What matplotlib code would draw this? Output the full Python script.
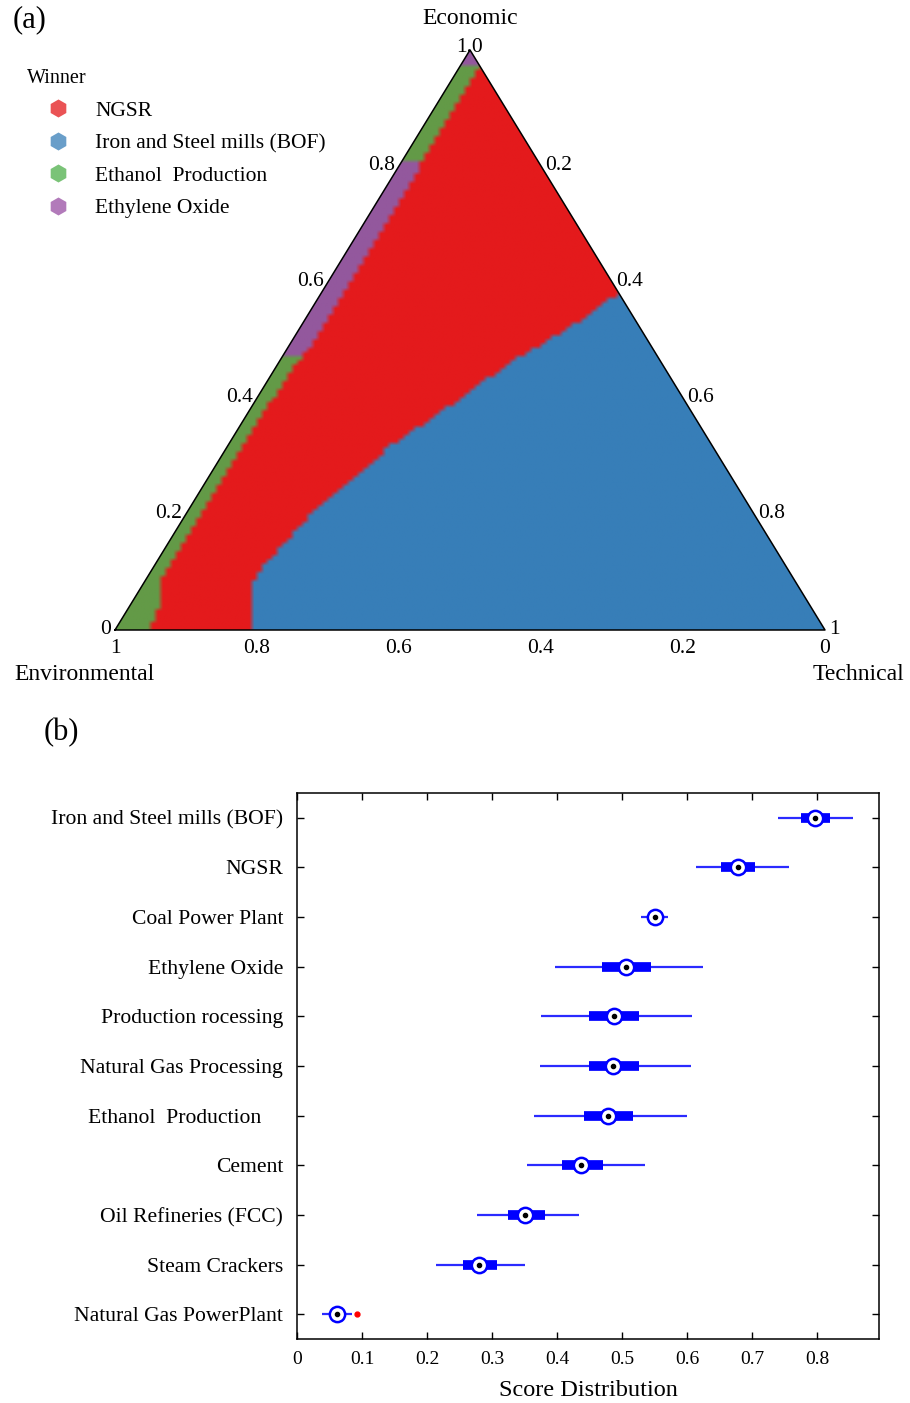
import numpy as np
import matplotlib
matplotlib.use('Agg')
import matplotlib.pyplot as plt
from matplotlib.colors import to_rgb
from matplotlib.lines import Line2D
from matplotlib.patches import Polygon

plt.rcParams['font.family'] = ['Liberation Serif', 'DejaVu Serif']

# ---- (a) winner map ----
winners = ['NGSR', 'Iron and Steel mills (BOF)', 'Ethanol  Production', 'Ethylene Oxide']
winner_colors = ['#e41a1c', '#377eb8', '#4daf4a', '#984ea3']
map_colors = ['#e41a1c', '#377eb8', '#639a47', '#93589d']  # strip looks a bit muddier on the map

# Iron and Steel wins where the Environmental weight is below this curve
blue_eco = [0.0, 0.07, 0.115, 0.195, 0.247, 0.316, 0.374, 0.46, 0.517, 0.58]
blue_env = [0.81, 0.775, 0.73, 0.63, 0.555, 0.455, 0.355, 0.214, 0.105, 0.0]

# thin strip along the Economic/Environmental edge (low Technical weight)
strip_eco = [0.0, 0.05, 0.09, 0.3, 0.45, 0.5, 0.75, 0.85, 1.0]
strip_tech = [0.05, 0.04, 0.022, 0.02, 0.025, 0.032, 0.032, 0.028, 0.03]
strip_break = [0.47, 0.81, 0.97]
strip_winner = [2, 3, 2, 3]

tern_ticks = [0, 0.2, 0.4, 0.6, 0.8, 1.0]
tern_labels = ['0', '0.2', '0.4', '0.6', '0.8', '1.0']

# ---- (b) score distribution ----
sources = ['Iron and Steel mills (BOF)', 'NGSR', 'Coal Power Plant', 'Ethylene Oxide',
           'Production rocessing', 'Natural Gas Processing', 'Ethanol  Production    ',
           'Cement', 'Oil Refineries (FCC)', 'Steam Crackers', 'Natural Gas PowerPlant']
med = [0.797, 0.678, 0.551, 0.506, 0.487, 0.486, 0.478, 0.437, 0.351, 0.280, 0.061]
q1 = [0.775, 0.652, 0.543, 0.469, 0.449, 0.449, 0.441, 0.408, 0.324, 0.255, 0.052]
q3 = [0.820, 0.705, 0.559, 0.545, 0.526, 0.526, 0.517, 0.470, 0.381, 0.307, 0.070]
wlo = [0.739, 0.613, 0.529, 0.397, 0.375, 0.374, 0.365, 0.354, 0.277, 0.213, 0.038]
whi = [0.855, 0.757, 0.570, 0.624, 0.607, 0.606, 0.600, 0.535, 0.434, 0.351, 0.084]
outlier_x = [0.092]
outlier_row = [11]
xticks = [0, 0.1, 0.2, 0.3, 0.4, 0.5, 0.6, 0.7, 0.8]

fig = plt.figure(figsize=(9.1, 14.03), dpi=100)

# ternary frame: Environmental=(0,0), Technical=(1,0), Economic=(0.5,1)
ax = fig.add_axes([115/910, 1-630/1403, 710/910, 580/1403])
ax.set_xlim(0, 1)
ax.set_ylim(0, 1)
ax.axis('off')

n = 140
gx, gy = np.meshgrid((np.arange(n)+0.5)/n, (np.arange(n)+0.5)/n)
eco = gy
tech = np.clip(gx - gy/2, 0, None)
env = np.clip(1 - eco - tech, 0, None)
win = np.zeros(gx.shape, int)
win[env < np.interp(eco, blue_eco, blue_env)] = 1
strip = (tech < np.interp(eco, strip_eco, strip_tech)) & (win == 0)
win[strip] = np.array(strip_winner)[np.searchsorted(strip_break, eco[strip])]
rgb = np.array([to_rgb(c) for c in map_colors])[win]

tri = Polygon([[0, 0], [1, 0], [0.5, 1]], closed=True, transform=ax.transData)
im = ax.imshow(rgb, extent=(0, 1, 0, 1), origin='lower', interpolation='bilinear', aspect='auto')
im.set_clip_path(tri)
ax.plot([0, 1, 0.5, 0], [0, 0, 1, 0], color='black', lw=1.1, clip_on=False)

fs_t = 15.5
for v, lab in zip(tern_ticks, tern_labels):
    # Economic, left edge
    if v == 1.0:
        ax.annotate(lab, (0.5, 1), xytext=(0, 2), textcoords='offset points',
                    ha='center', va='center', fontsize=fs_t)
    else:
        ax.annotate(lab, (v/2, v), xytext=(-3, 0), textcoords='offset points',
                    ha='right', va='center', fontsize=fs_t)
    # Technical, right edge
    if v > 0:
        ax.annotate(lab if v < 1 else '1', (v + (1-v)/2, 1-v), xytext=(3, 0),
                    textcoords='offset points', ha='left', va='center', fontsize=fs_t)
    # Environmental, bottom edge
    ax.annotate(lab if v < 1 else '1', (1-v, 0), xytext=(0, -13), textcoords='offset points',
                ha='center', va='center', fontsize=fs_t)

ax.annotate('Economic', (0.5, 1), xytext=(0, 23), textcoords='offset points',
            ha='center', va='center', fontsize=17)
ax.annotate('Environmental', (0, 0), xytext=(-22, -32), textcoords='offset points',
            ha='center', va='center', fontsize=17)
ax.annotate('Technical', (1, 0), xytext=(24, -32), textcoords='offset points',
            ha='center', va='center', fontsize=17)

handles = [Line2D([], [], marker='h', ls='', ms=13, color=c, mec='none', alpha=0.75)
           for c in winner_colors]
fig.legend(handles, winners, title='Winner', loc='upper left',
           bbox_to_anchor=(27/910, 1-69/1403), frameon=False, fontsize=15.5,
           title_fontsize=14.5, alignment='left', borderpad=0, borderaxespad=0,
           handlelength=2.88, handletextpad=0.3, labelspacing=0.58)

fig.text(30/910, 1-20/1403, '(a)', fontsize=22, ha='center', va='center')
fig.text(61/910, 1-733/1403, '(b)', fontsize=22, ha='center', va='center')

# ---- (b) ----
bx = fig.add_axes([297/910, 1-1339/1403, 582/910, 546/1403])
rows = np.arange(1, len(sources)+1)
bx.hlines(rows, wlo, whi, color='#2b2bff', lw=1.6)
bx.hlines(rows, q1, q3, color='blue', lw=7)
bx.plot(med, rows, 'o', ms=11, mfc='white', mec='blue', mew=1.8, ls='')
bx.plot(med, rows, 'o', ms=3, color='black', ls='')
bx.plot(outlier_x, outlier_row, 'o', ms=3.5, color='red', ls='')

bx.set_xlim(0, 0.895)
bx.set_ylim(len(sources)+0.5, 0.5)
bx.set_yticks(rows)
bx.set_yticklabels(sources, fontsize=15.6)
bx.set_xticks(xticks)
bx.set_xticklabels(['0' if t == 0 else f'{t:.1f}' for t in xticks], fontsize=14)
bx.tick_params(direction='in', top=True, right=True, length=5, width=1)
bx.tick_params(axis='y', pad=10)
bx.tick_params(axis='x', pad=9)
bx.set_xlabel('Score Distribution', fontsize=17.5, labelpad=8)
for s in bx.spines.values():
    s.set_linewidth(1.1)

fig.savefig('out.png', dpi=100)
